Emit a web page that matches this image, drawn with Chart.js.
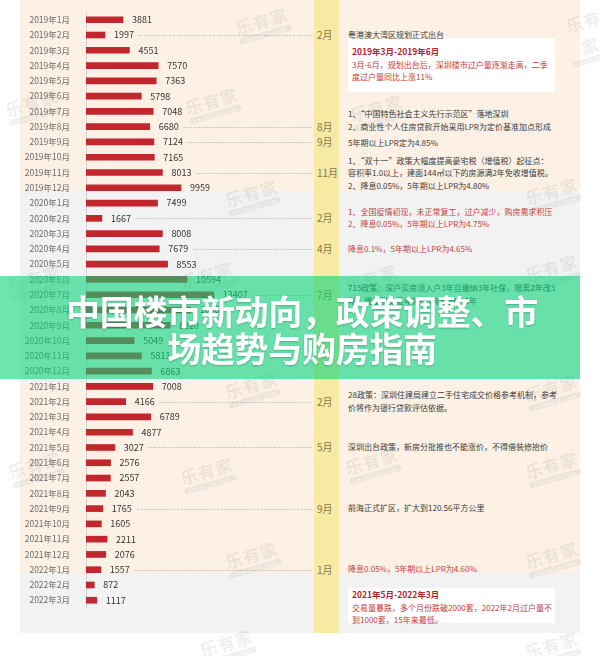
<!DOCTYPE html>
<html>
<head>
<meta charset="utf-8">
<script src="https://cdn.jsdelivr.net/npm/chart.js@4.4.1/dist/chart.umd.min.js"></script>
<style>
  body { margin: 0; width: 600px; height: 656px; overflow: hidden; background: #fff; position: relative;
         font-family: "Noto Sans CJK SC", "Noto Sans", sans-serif; }
  .abs { position: absolute; }
  .band { position: absolute; left: 20px; width: 560px; }
  .peach { background: #fdf1e5; }
  .gray { background: #f2f2f2; }
  #strip { left: 314px; top: 0; width: 25px; height: 633px; background: #f7eaa3; }
  #chart { position: absolute; left: 0; top: -1px; }
  .mon { position: absolute; left: 317px; font-size: 10px; line-height: 12px; color: #85784a; }
  .note { position: absolute; left: 348px; width: 235px; font-size: 8px; line-height: 12.5px; color: #3a3a3a; white-space: nowrap; }
  .note.red { color: #c8423c; }
  .box { position: absolute; left: 348px; width: 207px; background: #fff; padding: 0 0 0 4px; font-size: 8px; line-height: 12.5px; color: #c43a38; white-space: nowrap; }
  .box b { font-size: 8.5px; color: #b3232b; }
  .wm { position: absolute; transform: rotate(-16deg); color: rgba(120,120,120,0.12); font-size: 17px; font-weight: bold; letter-spacing: 1px; text-align: center; }
  .wm span { display: block; font-size: 5px; line-height: 6px; background: rgba(120,120,120,0.11); color: rgba(255,255,255,0.6); border-radius: 3px; margin-top: -1px; }
  #banner { left: 0; top: 276px; width: 580px; height: 103px; background: rgba(10,212,122,0.6); }
  .title { position: absolute; left: 0; width: 604px; text-align: center; color: #fff; font-size: 34px; font-weight: bold;
           line-height: 38px; letter-spacing: -0.3px; text-shadow: 0 1px 2px rgba(0,0,0,0.22); }
</style>
</head>
<body>
<div class="band peach" style="top:0;height:190.5px"></div>
<div class="band gray" style="top:190.5px;height:191.5px"></div>
<div class="band peach" style="top:382px;height:191px"></div>
<div class="band gray" style="top:573px;height:60px"></div>
<div id="strip" class="abs"></div>

<div class="box" style="top:38px;height:54px;padding-top:7px;box-sizing:border-box">
  <b>2019年3月-2019年6月</b><br>3月-6月，规划出台后，深圳楼市过户量逐渐走高，二季<br>度过户量同比上涨11%
</div>
<div class="box" style="top:588px;height:35px;box-sizing:border-box">
  <b>2021年5月-2022年3月</b><br>交易量暴跌，多个月份跌破2000套，2022年2月过户量不<br>到1000套，15年来最低。
</div>

<div id="wms"></div>
<canvas id="chart" width="313" height="622"></canvas>
<div id="notes"></div>

<div id="banner" class="abs"></div>
<div class="title" style="top:292px">中国楼市新动向，政策调整、市</div>
<div class="title" style="top:329px">场趋势与购房指南</div>

<script>
// 1. DATA - Shenzhen second-hand housing transfers per month
const months = [
  '2019年1月', '2019年2月', '2019年3月', '2019年4月', '2019年5月', '2019年6月',
  '2019年7月', '2019年8月', '2019年9月', '2019年10月', '2019年11月', '2019年12月',
  '2020年1月', '2020年2月', '2020年3月', '2020年4月', '2020年5月', '2020年6月',
  '2020年7月', '2020年8月', '2020年9月', '2020年10月', '2020年11月', '2020年12月',
  '2021年1月', '2021年2月', '2021年3月', '2021年4月', '2021年5月', '2021年6月',
  '2021年7月', '2021年8月', '2021年9月', '2021年10月', '2021年11月', '2021年12月',
  '2022年1月', '2022年2月', '2022年3月'
];
const transfers = [
  3881, 1997, 4551, 7570, 7363, 5798, 7048, 6680, 7124, 7165, 8013, 9959,
  7499, 1667, 8008, 7679, 8553, 10594, 13407, 10980, 8820, 5049, 5811, 6863,
  7008, 4166, 6789, 4877, 3027, 2576, 2557, 2043, 1765, 1605, 2211, 2076,
  1557, 872, 1117
];
// policy events: which month row, label in the yellow strip, text lines
const eventRows = ['2019年2月', '2019年8月', '2019年9月', '2019年11月', '2020年2月', '2020年4月',
                   '2020年7月', '2021年2月', '2021年5月', '2021年9月', '2022年1月'];
const eventMonths = ['2月', '8月', '9月', '11月', '2月', '4月', '7月', '2月', '5月', '9月', '1月'];
const eventTexts = [
  ['粤港澳大湾区规划正式出台'],
  ['1、“中国特色社会主义先行示范区”落地深圳', '2、商业性个人住房贷款开始采用LPR为定价基准加点形成'],
  ['5年期以上LPR定为4.85%'],
  ['1、“双十一”政策大幅度提高豪宅税（增值税）起征点：', '容积率1.0以上，建面144㎡以下的房源满2年免收增值税。', '2、降息0.05%，5年期以上LPR为4.80%'],
  ['1、全国疫情初现，未正常复工，过户减少，购房需求积压', '2、降息0.05%，5年期以上LPR为4.75%'],
  ['降息0.1%，5年期以上LPR为4.65%'],
  ['715政策：深户买房须入户3年且缴纳3年社保，限离2年改3', '年，增值税免征年限由2年调整为5年'],
  ['28政策：深圳住建局建立二手住宅成交价格参考机制，参考', '价将作为银行贷款评估依据。'],
  ['深圳出台政策，新房分批推也不能涨价，不得借装修抬价'],
  ['前海正式扩区，扩大到120.56平方公里'],
  ['降息0.05%，5年期以上LPR为4.60%']
];
const redEvents = [4, 5, 10];

// 2. VALUE LABELS + DOTTED LEADERS
const valueLabels = {
  id: 'valueLabels',
  afterDatasetsDraw(chart) {
    const c = chart.ctx;
    const bars = chart.getDatasetMeta(0).data;
    c.save();
    c.font = '9px "Noto Sans CJK SC", sans-serif';
    c.fillStyle = '#333';
    c.textBaseline = 'middle';
    bars.forEach((bar, i) => {
      const txt = String(transfers[i]);
      const x = bar.x + 9;
      c.fillText(txt, x, bar.y);
      if (eventRows.includes(months[i])) {
        const start = x + c.measureText(txt).width + 5;
        c.beginPath();
        c.setLineDash([1, 1.5]);
        c.strokeStyle = '#9a9a9a';
        c.lineWidth = 0.8;
        c.moveTo(start, Math.round(bar.y) + 0.5);
        c.lineTo(312, Math.round(bar.y) + 0.5);
        c.stroke();
      }
    });
    c.restore();
  }
};

// 3. THE CHART
const chart = new Chart(document.getElementById('chart'), {
  type: 'bar',
  data: {
    labels: months,
    datasets: [{ data: transfers, backgroundColor: '#c1272d', barThickness: 6 }]
  },
  options: {
    indexAxis: 'y',
    responsive: false,
    animation: false,
    layout: { padding: 0 },
    plugins: { legend: { display: false }, tooltip: { enabled: false } },
    scales: {
      x: { display: false, min: 0, max: 23800 },
      y: {
        grid: { display: false },
        border: { display: true, color: '#d2d2d2', width: 1 },
        ticks: { autoSkip: false, padding: 8, color: '#6b6b6b',
                 font: { family: '"Noto Sans CJK SC", sans-serif', size: 8.5 } },
        afterFit(scale) { scale.width = 86; }
      }
    }
  },
  plugins: [valueLabels]
});

// 4. MONTH TAGS AND NOTES, placed on their rows
const nudge = { 1: -6, 2: 1, 3: 1 };
const notes = document.getElementById('notes');
eventRows.forEach((row, k) => {
  const y = chart.scales.y.getPixelForValue(months.indexOf(row)) - 1;
  const m = document.createElement('div');
  m.className = 'mon';
  m.style.top = (y - 6) + 'px';
  m.textContent = eventMonths[k];
  notes.appendChild(m);

  const n = document.createElement('div');
  n.className = 'note' + (redEvents.includes(k) ? ' red' : '');
  const lines = eventTexts[k];
  n.style.top = (y + (nudge[k] || 0) - lines.length * 12.5 / 2) + 'px';
  n.innerHTML = lines.join('<br>');
  notes.appendChild(n);
});

// 5. WATERMARKS
const wmSpots = [[235, 8], [565, 8], [5, 90], [185, 88], [350, 95], [225, 180], [525, 178],
                 [8, 265], [180, 262], [345, 265], [525, 255], [225, 372], [525, 375],
                 [8, 452], [180, 458], [345, 448], [525, 452], [225, 542], [525, 542], [200, 630], [525, 632]];
const wms = document.getElementById('wms');
wmSpots.forEach(p => {
  const w = document.createElement('div');
  w.className = 'wm';
  w.style.left = p[0] + 'px';
  w.style.top = p[1] + 'px';
  w.innerHTML = '乐有家<span>Leyoujia.com</span>';
  wms.appendChild(w);
});
</script>
</body>
</html>
